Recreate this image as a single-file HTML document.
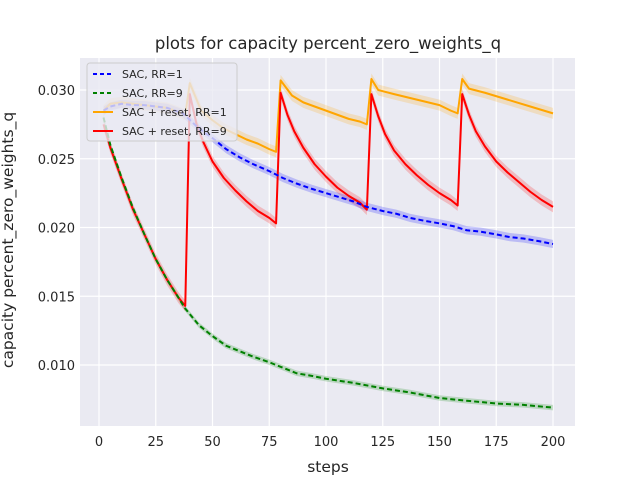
<!DOCTYPE html>
<html><head><meta charset="utf-8"><style>
body{margin:0;background:#fff;font-family:"Liberation Sans","DejaVu Sans",sans-serif}
svg text{font-family:"DejaVu Sans","Liberation Sans",sans-serif;fill:#262626}
</style></head><body>
<svg id="c" width="640" height="480">
<rect x="80" y="58" width="495" height="368" fill="#eaeaf2"/>
<g id="grid"></g><g id="bands"></g><g id="lines"></g><g id="ticks"></g>
<text x="328" y="49" font-size="16.5" text-anchor="middle">plots for capacity percent_zero_weights_q</text>
<text x="328" y="472" font-size="15.5" text-anchor="middle">steps</text>
<text transform="translate(13,240) rotate(-90)" font-size="15.5" text-anchor="middle">capacity percent_zero_weights_q</text>
<g>
<rect x="87" y="63" width="150" height="78" rx="3" fill="#eaeaf2" fill-opacity="0.8" stroke="#cccccc"/>
<line x1="93" y1="74" x2="113" y2="74" stroke="blue" stroke-width="2" stroke-dasharray="4,3"/>
<text x="122" y="78" font-size="11">SAC, RR=1</text>
<line x1="93" y1="93" x2="113" y2="93" stroke="green" stroke-width="2" stroke-dasharray="4,3"/>
<text x="122" y="97" font-size="11">SAC, RR=9</text>
<line x1="93" y1="112" x2="113" y2="112" stroke="orange" stroke-width="2"/>
<text x="122" y="116" font-size="11">SAC + reset, RR=1</text>
<line x1="93" y1="131" x2="113" y2="131" stroke="red" stroke-width="2"/>
<text x="122" y="135" font-size="11">SAC + reset, RR=9</text>
</g>
</svg>
<script>
const xTicks=[0,25,50,75,100,125,150,175,200];
const yTicks=[0.010,0.015,0.020,0.025,0.030];
const yTickLabels=["0.010","0.015","0.020","0.025","0.030"];
const blueX=[2,5,10,15,20,25,30,37,44,50,56,62,68,75,81,87,94,100,106,112,118,125,131,137,143,150,156,162,168,175,181,187,194,200];
const blueY=[0.0285,0.0288,0.0290,0.0289,0.0289,0.0288,0.0287,0.0283,0.0272,0.0265,0.0257,0.0251,0.0246,0.0241,0.0236,0.0232,0.0228,0.0225,0.0222,0.0219,0.0215,0.0212,0.0210,0.0207,0.0205,0.0203,0.0201,0.0198,0.0197,0.0195,0.0193,0.0192,0.0190,0.0188];
const greenX=[2,5,10,15,20,25,30,35,38,44,50,56,62,68,75,81,87,94,100,112,125,137,150,162,175,187,200];
const greenY=[0.0280,0.0260,0.0236,0.0214,0.0195,0.0177,0.0162,0.0149,0.0141,0.0129,0.0121,0.0114,0.0110,0.0106,0.0102,0.0098,0.0094,0.0092,0.0090,0.0087,0.0083,0.0080,0.0076,0.0074,0.0072,0.0071,0.0069];
const orangeX=[2,5,10,15,20,25,30,35,38,40,45,50,55,60,65,70,75,78,80,85,90,95,100,105,110,115,118,120,123,130,140,150,155,158,160,163,170,180,190,200];
const orangeY=[0.0285,0.0290,0.0291,0.0290,0.0289,0.0288,0.0287,0.0284,0.0282,0.0305,0.0285,0.0278,0.0272,0.0268,0.0264,0.0261,0.0257,0.0255,0.0307,0.0296,0.0291,0.0288,0.0285,0.0282,0.0279,0.0277,0.0275,0.0308,0.0300,0.0297,0.0293,0.0289,0.0285,0.0283,0.0308,0.0301,0.0298,0.0293,0.0288,0.0283];
const redX=[2,5,10,15,20,25,30,35,38,40,43,46,50,55,60,65,70,75,78,80,83,86,90,95,100,105,110,115,118,120,123,126,130,135,140,145,150,155,158,160,163,166,170,175,180,185,190,195,200];
const redY=[0.0275,0.0258,0.0235,0.0213,0.0195,0.0177,0.0162,0.0149,0.0143,0.0297,0.0275,0.0262,0.0248,0.0236,0.0227,0.0219,0.0212,0.0207,0.0203,0.0298,0.0282,0.0270,0.0258,0.0246,0.0237,0.0229,0.0223,0.0218,0.0213,0.0297,0.0281,0.0268,0.0256,0.0246,0.0238,0.0231,0.0225,0.0220,0.0216,0.0297,0.0282,0.0270,0.0259,0.0248,0.0240,0.0233,0.0226,0.0220,0.0215];
const NS="http://www.w3.org/2000/svg";
function sx(v){return 99+v*(553-99)/200;}
function sy(v){return 90+(0.030-v)*13750;}
function mk(t,p,a){const e=document.createElementNS(NS,t);for(const k in a)e.setAttribute(k,a[k]);p.appendChild(e);return e;}
const grid=document.getElementById('grid'),ticks=document.getElementById('ticks'),bands=document.getElementById('bands'),lines=document.getElementById('lines');
xTicks.forEach(t=>{const l=mk('line',grid,{x1:sx(t),x2:sx(t),y1:58,y2:426,stroke:'#fff','stroke-width':1.2});


const tx=mk('text',ticks,{x:sx(t),y:446,'font-size':13,'text-anchor':'middle'});tx.textContent=t;

});
yTicks.forEach((t,i)=>{const l=mk('line',grid,{x1:80,x2:575,y1:sy(t),y2:sy(t),stroke:'#fff','stroke-width':1.2});


const tx=mk('text',ticks,{x:75,y:sy(t)+5,'font-size':13,'text-anchor':'end'});tx.textContent=yTickLabels[i];

});
function series(xs,ys,color,dash,sd,name){
 let up=xs.map((x,i)=>sx(x)+','+sy(ys[i]+sd)).join(' ');
 let dn=xs.map((x,i)=>sx(x)+','+sy(ys[i]-sd)).reverse().join(' ');
 const b=mk('polygon',bands,{points:up+' '+dn,fill:color,'fill-opacity':0.2});
 
 
 const a={points:xs.map((x,i)=>sx(x)+','+sy(ys[i])).join(' '),fill:'none',stroke:color,'stroke-width':2,'stroke-linejoin':'round'};
 if(dash)a['stroke-dasharray']='5,3';
 const l=mk('polyline',lines,a);
 
 
}
series(orangeX,orangeY,'orange',false,0.0004,'sac-reset-rr1');
series(redX,redY,'red',false,0.0004,'sac-reset-rr9');
series(blueX,blueY,'blue',true,0.0003,'sac-rr1');
series(greenX,greenY,'green',true,0.0002,'sac-rr9');
</script>
</body></html>
